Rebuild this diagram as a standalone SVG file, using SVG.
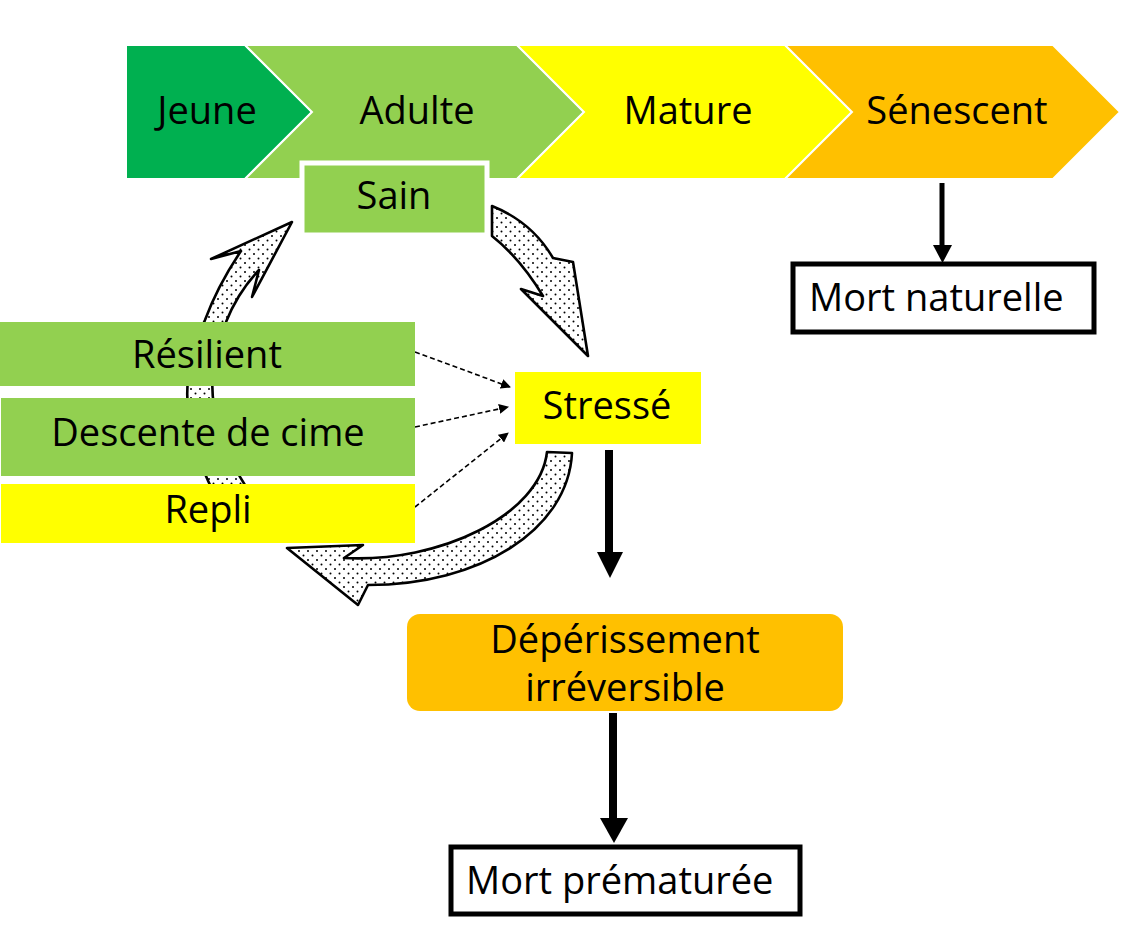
<svg xmlns="http://www.w3.org/2000/svg" width="1127" height="933" viewBox="0 0 1127 933">
<style>
  text { font-family: "Open Sans", "Noto Sans", "Liberation Sans", sans-serif; font-size: 38px; fill: #000; }
  .mid { text-anchor: middle; }
  .chev { stroke: #fff; stroke-width: 2; }
  .green { fill: #92D050; }
  .dark { fill: #00B050; }
  .yellow { fill: #FFFF00; }
  .orange { fill: #FFC000; }
  .endbox { fill: #fff; stroke: #000; stroke-width: 5; }
  .dash { fill: none; stroke: #000; stroke-width: 1.6; stroke-dasharray: 5 3; }
  .thick { fill: #000; stroke: none; }
  .curl { fill: url(#dots); stroke: #000; stroke-width: 2.6; stroke-linejoin: round; }
</style>
<defs>
  <pattern id="dots" width="9" height="9" patternUnits="userSpaceOnUse">
    <rect width="9" height="9" fill="#fff"/>
    <circle cx="2" cy="2" r="1" fill="#000"/>
    <circle cx="6.5" cy="6.5" r="1" fill="#000"/>
  </pattern>
  <marker id="ah" viewBox="0 0 10 10" refX="9" refY="5" markerWidth="10" markerHeight="10" markerUnits="userSpaceOnUse" orient="auto">
    <path d="M0,0 L10,5 L0,10 Z" fill="#000"/>
  </marker>
</defs>
<rect width="1127" height="933" fill="#fff"/>

<g id="stage-jeune">
  <polygon class="chev dark" points="126,45 245,45 312,112 245,179 126,179"/>
  <text class="mid" x="207" y="124">Jeune</text>
</g>
<g id="stage-adulte">
  <polygon class="chev green" points="245,45 517,45 584,112 517,179 245,179 312,112"/>
  <text class="mid" x="417" y="124">Adulte</text>
</g>
<g id="stage-mature">
  <polygon class="chev yellow" points="517,45 785,45 852,112 785,179 517,179 584,112"/>
  <text class="mid" x="688" y="124">Mature</text>
</g>
<g id="stage-senescent">
  <polygon class="chev orange" points="785,45 1053,45 1120,112 1053,179 785,179 852,112"/>
  <text class="mid" x="957" y="124">Sénescent</text>
</g>

<g id="connectors">
  <!-- cycle arrows -->
  <path id="cycle-left" class="curl" d="M215,495 Q165,400 205,320 Q218,285 241,251 L211,259 L292,222 L252,297 L259,270 Q238,292 226,322 Q190,400 248,490 Z"/>
  <path id="cycle-right" class="curl" d="M492,206 Q532,222 553,258 L573,262 L588,356 L521,289 L543,296 Q520,258 492,236 Z"/>
  <path id="cycle-bottom" class="curl" d="M572,453 C568,530 480,585 368,585 L358,605 L287,548 L363,545 L344,558 C440,563 540,515 547,452 Z"/>
  <!-- dashed arrows -->
  <line class="dash" x1="415" y1="352" x2="510" y2="387" marker-end="url(#ah)"/>
  <line class="dash" x1="415" y1="427" x2="508" y2="407" marker-end="url(#ah)"/>
  <line class="dash" x1="415" y1="507" x2="508" y2="433" marker-end="url(#ah)"/>
  <!-- thick arrows -->
  <rect class="thick" x="605" y="450" width="8" height="104"/>
  <polygon class="thick" points="597,552 623,552 610,578"/>
  <rect class="thick" x="609" y="713" width="8" height="107"/>
  <polygon class="thick" points="600,818 628,818 614,843"/>
  <rect class="thick" x="939.5" y="183" width="5" height="64"/>
  <polygon class="thick" points="933,245 952,245 942.5,263"/>
</g>

<g id="sain">
  <rect x="302" y="163" width="185" height="72" class="green" stroke="#fff" stroke-width="5"/>
  <text class="mid" x="394" y="209">Sain</text>
</g>
<g id="resilient">
  <rect x="0" y="322" width="415" height="64" class="green"/>
  <text class="mid" x="207" y="368">Résilient</text>
</g>
<g id="descente">
  <rect x="1" y="398" width="414" height="78" class="green"/>
  <text class="mid" x="208" y="446">Descente de cime</text>
</g>
<g id="repli">
  <rect x="1" y="484" width="414" height="59" class="yellow"/>
  <text class="mid" x="208" y="523">Repli</text>
</g>
<g id="stresse">
  <rect x="515" y="372" width="186" height="72" class="yellow"/>
  <text class="mid" x="607" y="419">Stressé</text>
</g>
<g id="deperissement">
  <rect x="407" y="614" width="436" height="97" rx="13" class="orange"/>
  <text class="mid" x="625" y="653">Dépérissement</text>
  <text class="mid" x="625" y="701">irréversible</text>
</g>
<g id="mort-naturelle">
  <rect x="793" y="264" width="301" height="68" class="endbox"/>
  <text x="809" y="311">Mort naturelle</text>
</g>
<g id="mort-prematuree">
  <rect x="451" y="847" width="349" height="67" class="endbox"/>
  <text x="466" y="894">Mort prématurée</text>
</g>
</svg>
